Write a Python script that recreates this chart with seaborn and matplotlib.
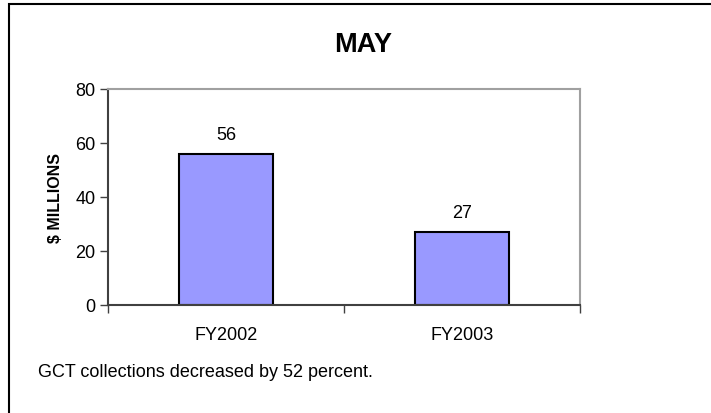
import numpy as np
import pandas as pd
import matplotlib
matplotlib.use("Agg")
import matplotlib.pyplot as plt
from matplotlib.patches import Rectangle
import seaborn as sns

# Data
years = ["FY2002", "FY2003"]
collections = [56, 27]
y_ticks = [0, 20, 40, 60, 80]

sns.set_style("white")
plt.rcParams["font.family"] = ["Liberation Sans", "DejaVu Sans"]
plt.rcParams["text.color"] = "black"
plt.rcParams["axes.labelcolor"] = "black"
plt.rcParams["xtick.color"] = "black"
plt.rcParams["ytick.color"] = "black"

df = pd.DataFrame({"year": years, "value": collections})

fig = plt.figure(figsize=(7.11, 4.14), dpi=100)
ax = fig.add_axes([108 / 711, 1 - 306 / 414, 472 / 711, 216 / 414])

sns.barplot(data=df, x="year", y="value", color="#9999FF", width=0.4,
            edgecolor="black", linewidth=1.5, saturation=1, ax=ax)

for i, v in enumerate(collections):
    ax.annotate(str(v), (i, v), xytext=(0, 8), textcoords="offset points",
                ha="center", va="bottom", fontsize=13, color="black")

ax.set_xlim(-0.5, 1.5)
ax.set_ylim(0, 80)
ax.set_yticks(y_ticks)
ax.set_xticks([-0.5, 0.5, 1.5], minor=True)
ax.tick_params(axis="x", which="major", length=0, pad=15, labelsize=13, labelcolor="black")
ax.tick_params(axis="x", which="minor", length=6, width=1, color="#404040", direction="out")
ax.tick_params(axis="y", length=6, width=1, color="#404040", direction="out",
               labelsize=13, pad=3, labelcolor="black")
ax.tick_params(bottom=True, left=True, which="both")

ax.set_xlabel("")
ax.set_ylabel("$ MILLIONS", fontsize=11.5, fontweight="bold", labelpad=9, color="black")

for side in ["left", "bottom"]:
    ax.spines[side].set_color("#404040")
    ax.spines[side].set_linewidth(1.5)
for side in ["top", "right"]:
    ax.spines[side].set_color("#a0a0a0")
    ax.spines[side].set_linewidth(1.5)

fig.text(363 / 711, 1 - 45 / 414, "MAY", ha="center", va="center",
         fontsize=19.5, fontweight="bold", color="black")
fig.text(38 / 711, 1 - 373 / 414, "GCT collections decreased by 52 percent.",
         ha="left", va="center", fontsize=13, color="black")

# Outer frame, open on right and bottom edge of image
fig.patches.append(Rectangle((8.5 / 711, -0.05), 1.1, 1 - 4.5 / 414 + 0.05,
                             transform=fig.transFigure, fill=False,
                             edgecolor="black", linewidth=1.5))

fig.savefig("out.png", dpi=100)
